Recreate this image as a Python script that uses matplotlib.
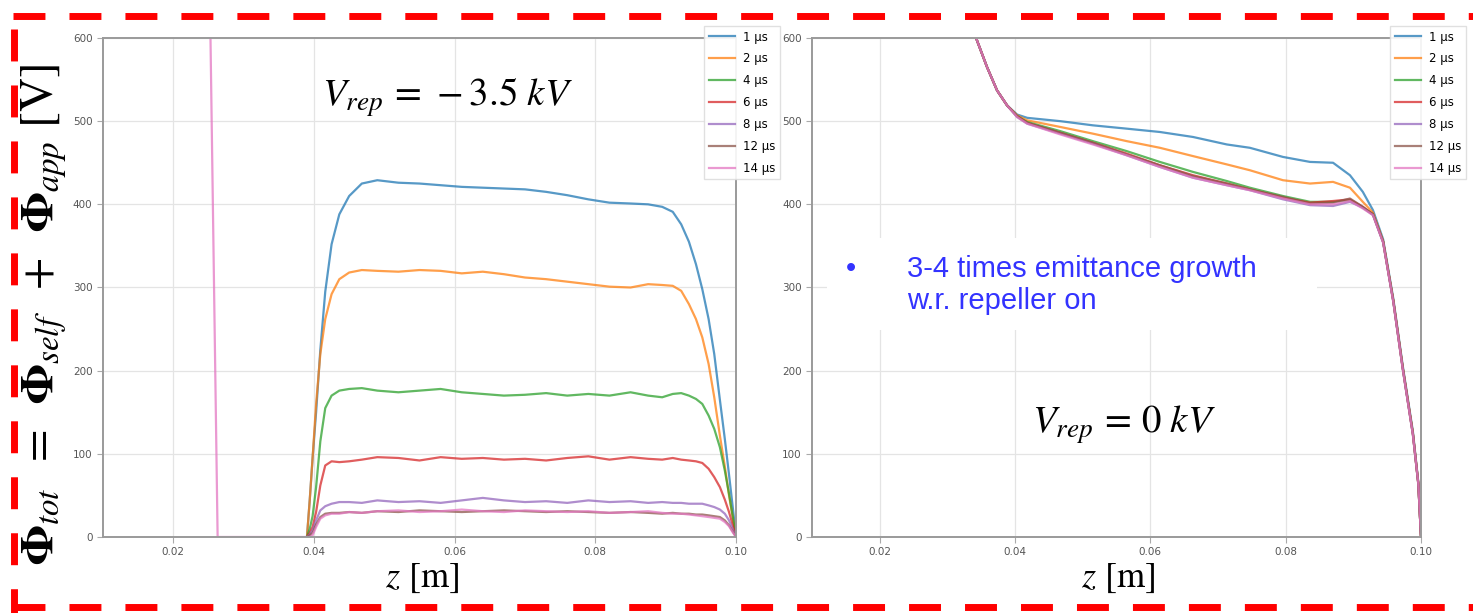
import matplotlib
matplotlib.use("Agg")
import matplotlib.pyplot as plt
from matplotlib.lines import Line2D
from matplotlib.patches import Rectangle

plt.rcParams['mathtext.fontset'] = 'stix'
plt.rcParams['lines.scale_dashes'] = False

labels = ['1 μs', '2 μs', '4 μs', '6 μs', '8 μs', '12 μs', '14 μs']
colors = ['tab:blue', 'tab:orange', 'tab:green', 'tab:red',
          'tab:purple', 'tab:brown', 'tab:pink']

# ---- left panel, V_rep = -3.5 kV ----
z_left = [0.0390, 0.0394, 0.0398, 0.0403, 0.0409, 0.0416, 0.0425, 0.0436, 0.0450,
          0.0468, 0.0490,
          0.0520, 0.0550, 0.0580, 0.0610, 0.0640, 0.0670, 0.0700, 0.0730, 0.0760,
          0.0790, 0.0820, 0.0850, 0.0875, 0.0895,
          0.0910, 0.0922, 0.0933, 0.0943, 0.0952, 0.0961, 0.0969, 0.0977, 0.0984,
          0.0990, 0.0995, 0.1000]
phi_left_1 = [0, 45, 95, 150, 225, 295, 352, 388, 410, 425, 429,
              426, 425, 423, 421, 420, 419, 418, 415, 411, 406, 402, 401, 400, 397,
              391, 376, 355, 328, 298, 262, 220, 165, 118, 75, 38, 0]
phi_left_2 = [0, 45, 95, 160, 220, 262, 292, 310, 318, 321, 320,
              319, 321, 320, 317, 319, 316, 312, 310, 307, 304, 301, 300, 304, 303,
              302, 296, 280, 262, 240, 208, 168, 122, 85, 50, 25, 0]
phi_left_4 = [0, 10, 25, 60, 115, 155, 170, 176, 178, 179, 176,
              174, 176, 178, 174, 172, 170, 171, 173, 170, 172, 170, 174, 170, 168,
              172, 173, 170, 166, 160, 146, 130, 108, 80, 52, 26, 0]
phi_left_6 = [0, 5, 12, 30, 62, 86, 91, 90, 91, 93, 96,
              95, 92, 96, 94, 95, 93, 94, 92, 95, 97, 93, 96, 94, 93,
              95, 93, 92, 91, 89, 82, 72, 60, 45, 30, 15, 0]
phi_left_8 = [0, 3, 8, 20, 32, 37, 40, 42, 42, 41, 44,
              42, 43, 41, 44, 47, 44, 42, 43, 41, 44, 42, 43, 41, 42,
              41, 41, 40, 40, 40, 38, 36, 33, 28, 20, 10, 0]
phi_left_12 = [0, 2, 5, 15, 24, 28, 29, 29, 30, 29, 31,
               30, 32, 31, 30, 31, 32, 31, 30, 31, 30, 29, 30, 29, 28,
               29, 28, 28, 27, 27, 26, 25, 24, 20, 14, 7, 0]
z_left_14 = [0.0252, 0.0263] + z_left
phi_left_14 = [650, 0,
               0, 0, 2, 12, 22, 26, 28, 28, 30, 29, 31,
               32, 30, 31, 33, 31, 30, 32, 31, 30, 31, 29, 30, 31, 29,
               28, 28, 27, 26, 25, 24, 23, 22, 18, 13, 6, 0]

# ---- right panel, V_rep = 0 kV ----
z_right = [0.0330, 0.03424, 0.03586, 0.03734, 0.03882, 0.0403, 0.0418, 0.0467,
           0.0515, 0.0565, 0.0614, 0.0663, 0.0713, 0.0747, 0.0796, 0.0836,
           0.0870, 0.0895, 0.0914, 0.0929, 0.0944, 0.0959, 0.0973, 0.0988,
           0.0996, 0.1000]
phi_right_1 = [640, 600, 565, 537, 519, 508, 504, 500, 495, 491, 487, 481, 472,
               468, 457, 451, 450, 435, 415, 393, 358, 287, 206, 127, 66, 0]
phi_right_2 = [640, 600, 565, 537, 519, 507, 501, 493, 485, 476, 468, 458, 448,
               441, 429, 425, 427, 420, 403, 390, 356, 285, 204, 125, 65, 0]
phi_right_4 = [640, 600, 565, 537, 519, 506, 499, 488, 476, 464, 451, 439, 428,
               420, 410, 403, 403, 405, 396, 388, 355, 284, 203, 124, 64, 0]
phi_right_6 = [640, 600, 565, 537, 519, 506, 498, 486, 474, 461, 447, 435, 425,
               418, 408, 402, 404, 406, 397, 388, 355, 284, 203, 124, 64, 0]
phi_right_8 = [640, 600, 565, 537, 519, 505, 497, 485, 473, 459, 445, 432, 423,
               417, 406, 399, 398, 403, 396, 387, 354, 283, 202, 123, 64, 0]
phi_right_12 = [640, 600, 565, 537, 519, 506, 498, 486, 474, 460, 447, 434, 425,
                418, 409, 401, 402, 407, 397, 388, 355, 284, 203, 124, 64, 0]
phi_right_14 = [640, 600, 565, 537, 519, 505, 497, 484, 472, 459, 445, 432, 423,
                417, 407, 400, 400, 404, 395, 387, 354, 283, 202, 123, 64, 0]

left_series = [(z_left, phi_left_1), (z_left, phi_left_2), (z_left, phi_left_4),
               (z_left, phi_left_6), (z_left, phi_left_8), (z_left, phi_left_12),
               (z_left_14, phi_left_14)]
right_series = [phi_right_1, phi_right_2, phi_right_4, phi_right_6,
                phi_right_8, phi_right_12, phi_right_14]

fig = plt.figure(figsize=(14.73, 6.13), dpi=100)
ax1 = fig.add_axes([0.0699, 0.124, 0.4298, 0.814])
ax2 = fig.add_axes([0.5513, 0.124, 0.4134, 0.814])


def style(ax):
    ax.set_xlim(0.01, 0.10)
    ax.set_ylim(0, 600)
    ax.set_xticks([0.02, 0.04, 0.06, 0.08, 0.10])
    ax.set_xticklabels(['0.02', '0.04', '0.06', '0.08', '0.10'])
    ax.set_yticks(range(0, 601, 100))
    ax.grid(True, color='#e4e4e4', lw=0.9)
    ax.set_axisbelow(True)
    ax.tick_params(labelsize=7.5, labelcolor='#555555', color='#aaaaaa', length=4)
    for s in ax.spines.values():
        s.set_color('#9a9a9a')
        s.set_linewidth(1.4)


for (z, phi), lab, c in zip(left_series, labels, colors):
    ax1.plot(z, phi, color=c, lw=1.6, alpha=0.75, label=lab)
for phi, lab, c in zip(right_series, labels, colors):
    ax2.plot(z_right, phi, color=c, lw=1.6, alpha=0.75, label=lab)

style(ax1)
style(ax2)

leg_kw = dict(loc='upper left', fontsize=8.5, labelspacing=0.75, handlelength=2.2,
              handletextpad=0.7, borderpad=0.4, framealpha=0.9, edgecolor='#dddddd',
              fancybox=False)
l1 = ax1.legend(bbox_to_anchor=(698 / 1473, 1 - 20 / 613), bbox_transform=fig.transFigure, **leg_kw)
l2 = ax2.legend(bbox_to_anchor=(1384 / 1473, 1 - 20 / 613), bbox_transform=fig.transFigure, **leg_kw)
for lg in (l1, l2):
    lg.set_zorder(10)

# annotations
fig.text(447 / 1473, 1 - 106 / 613, r'$V_{rep}\,=\,-3.5\ kV$', fontsize=28,
         ha='center', va='baseline')
fig.text(1124 / 1473, 1 - 433 / 613, r'$V_{rep}\,=\,0\ kV$', fontsize=28,
         ha='center', va='baseline')

fig.text(44 / 1473, 1 - 315 / 613,
         r'$\mathbf{\Phi}_{tot}\;\;=\;\;\mathbf{\Phi}_{self}\;\;+\;\;\mathbf{\Phi}_{app}$ [V]',
         fontsize=34, rotation=90, ha='center', va='center', family='STIXGeneral')
fig.text(422 / 1473, 1 - 578 / 613, r'$z$ [m]', fontsize=26, ha='center', va='center',
         family='STIXGeneral')
fig.text(1118 / 1473, 1 - 578 / 613, r'$z$ [m]', fontsize=26, ha='center', va='center',
         family='STIXGeneral')

# white box with blue bullet text
fig.patches.append(Rectangle((827 / 1473, 1 - 330 / 613), 490 / 1473, 92 / 613,
                             transform=fig.transFigure, facecolor='white',
                             edgecolor='none', zorder=5))
blue = '#3333ff'
fig.text(851 / 1473, 1 - 277 / 613, '•', fontsize=21, color=blue, va='baseline',
         ha='center', family='Liberation Sans', zorder=6)
fig.text(907 / 1473, 1 - 277 / 613, '3-4 times emittance growth', fontsize=21,
         color=blue, va='baseline', family='Liberation Sans', zorder=6)
fig.text(907 / 1473, 1 - 309 / 613, 'w.r. repeller on', fontsize=21,
         color=blue, va='baseline', family='Liberation Sans', zorder=6)

# red dashed frame
dash = (23, 17.3)
for xs, ys in [((13, 1473), (16, 16)), ((13, 1473), (607, 607)), ((13.5, 13.5), (29, 613))]:
    fx = [x / 1473 for x in xs]
    fy = [1 - y / 613 for y in ys]
    fig.add_artist(Line2D(fx, fy, color='#ff0000', lw=5.0, dashes=dash,
                          solid_capstyle='butt', dash_capstyle='butt',
                          transform=fig.transFigure, zorder=20))

fig.savefig('out.png', dpi=100)
